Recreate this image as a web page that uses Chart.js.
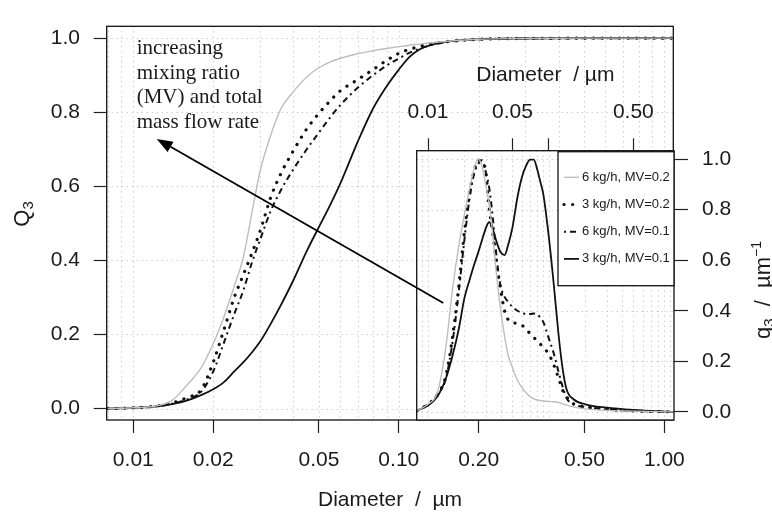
<!DOCTYPE html>
<html><head><meta charset="utf-8">
<script src="https://cdn.jsdelivr.net/npm/chart.js@4.4.1/dist/chart.umd.min.js"></script>
<style>
html,body{margin:0;padding:0;background:#fff;}
#wrap{position:relative;width:772px;height:516px;overflow:hidden;}
canvas{position:absolute;left:0;top:0;}
</style></head><body>
<div id="wrap"><canvas id="main" width="772" height="516"></canvas><canvas id="inset" width="772" height="516"></canvas></div>
<script>
// ---------------- data ----------------
const seriesNames = ['6 kg/h, MV=0.2', '3 kg/h, MV=0.2', '6 kg/h, MV=0.1', '3 kg/h, MV=0.1'];

// cumulative distribution Q3 (main plot)
const cumDiameter = [0.008, 0.01, 0.012, 0.014, 0.016, 0.018, 0.02, 0.022, 0.024, 0.026, 0.028, 0.03, 0.033, 0.036, 0.04, 0.045, 0.05, 0.055, 0.06, 0.07, 0.08, 0.09, 0.1, 0.11, 0.12, 0.13, 0.15, 0.2, 0.3, 0.5, 0.7, 1.08];
const Q3_6kg_MV02 = [0, 0.002, 0.006, 0.022, 0.065, 0.11, 0.175, 0.25, 0.33, 0.41, 0.53, 0.64, 0.74, 0.81, 0.855, 0.895, 0.92, 0.935, 0.945, 0.958, 0.966, 0.972, 0.977, 0.981, 0.984, 0.987, 0.991, 0.997, 0.999, 1, 1, 1];
const Q3_3kg_MV02 = [0, 0.002, 0.006, 0.015, 0.03, 0.05, 0.125, 0.215, 0.30, 0.362, 0.42, 0.478, 0.572, 0.635, 0.695, 0.755, 0.797, 0.83, 0.857, 0.888, 0.915, 0.94, 0.959, 0.97, 0.978, 0.984, 0.99, 0.997, 0.999, 1, 1, 1];
const Q3_6kg_MV01 = [0, 0.002, 0.005, 0.013, 0.025, 0.045, 0.10, 0.18, 0.255, 0.32, 0.395, 0.455, 0.535, 0.59, 0.645, 0.70, 0.745, 0.785, 0.818, 0.866, 0.90, 0.926, 0.945, 0.961, 0.972, 0.98, 0.989, 0.997, 0.999, 1, 1, 1];
const Q3_3kg_MV01 = [0, 0.002, 0.005, 0.012, 0.022, 0.036, 0.052, 0.072, 0.1, 0.125, 0.152, 0.18, 0.23, 0.28, 0.345, 0.425, 0.49, 0.548, 0.605, 0.72, 0.81, 0.87, 0.915, 0.95, 0.97, 0.98, 0.99, 0.997, 0.999, 1, 1, 1];

// density distribution q3 (inset)
const densDiameter = [0.0081, 0.01, 0.012, 0.014, 0.016, 0.018, 0.02, 0.022, 0.024, 0.026, 0.028, 0.03, 0.032, 0.034, 0.036, 0.038, 0.04, 0.043, 0.046, 0.05, 0.055, 0.06, 0.065, 0.07, 0.075, 0.08, 0.085, 0.09, 0.1, 0.11, 0.12, 0.13, 0.14, 0.16, 0.2, 0.3, 0.5, 1.08];
const q3_6kg_MV02 = [0.005, 0.03, 0.08, 0.25, 0.49, 0.66, 0.78, 0.88, 0.96, 1.0, 0.97, 0.9, 0.825, 0.72, 0.59, 0.49, 0.40, 0.30, 0.225, 0.175, 0.125, 0.095, 0.075, 0.06, 0.052, 0.047, 0.045, 0.043, 0.041, 0.04, 0.037, 0.032, 0.027, 0.02, 0.012, 0.006, 0.003, 0];
const q3_3kg_MV02 = [0.005, 0.03, 0.07, 0.14, 0.30, 0.50, 0.71, 0.86, 0.95, 0.995, 0.99, 0.95, 0.81, 0.72, 0.63, 0.545, 0.48, 0.40, 0.365, 0.353, 0.35, 0.342, 0.328, 0.308, 0.295, 0.28, 0.268, 0.255, 0.228, 0.185, 0.135, 0.086, 0.06, 0.032, 0.02, 0.01, 0.004, 0];
const q3_6kg_MV01 = [0.005, 0.03, 0.07, 0.13, 0.28, 0.48, 0.68, 0.84, 0.94, 0.98, 0.995, 0.95, 0.89, 0.79, 0.665, 0.56, 0.495, 0.455, 0.435, 0.415, 0.40, 0.392, 0.387, 0.387, 0.389, 0.385, 0.373, 0.355, 0.29, 0.23, 0.16, 0.10, 0.055, 0.03, 0.02, 0.01, 0.004, 0];
const q3_3kg_MV01 = [0.005, 0.025, 0.062, 0.13, 0.225, 0.33, 0.45, 0.52, 0.58, 0.63, 0.68, 0.725, 0.75, 0.73, 0.69, 0.655, 0.63, 0.62, 0.66, 0.73, 0.85, 0.93, 0.975, 0.998, 0.998, 0.96, 0.91, 0.86, 0.69, 0.5, 0.31, 0.17, 0.09, 0.05, 0.03, 0.017, 0.008, 0];

// ticks / labels
const mainXTicks = [0.01, 0.02, 0.05, 0.1, 0.2, 0.5, 1];
const mainXTickLabels = ['0.01', '0.02', '0.05', '0.10', '0.20', '0.50', '1.00'];
const insetXTicks = [0.01, 0.05, 0.1, 0.5];
const insetXTickLabels = ['0.01', '0.05', '', '0.50'];
const yTicks = [0, 0.2, 0.4, 0.6, 0.8, 1.0];
const yTickLabels = ['0.0', '0.2', '0.4', '0.6', '0.8', '1.0'];
const logGrid = [0.008, 0.009, 0.01, 0.02, 0.03, 0.04, 0.05, 0.06, 0.07, 0.08, 0.09, 0.1, 0.2, 0.3, 0.4, 0.5, 0.6, 0.7, 0.8, 0.9, 1.0];

// texts
const mainXTitle = 'Diameter  /  \u00b5m';
const insetXTitle = 'Diameter  / \u00b5m';
const annotationLines = ['increasing', 'mixing ratio', '(MV) and total', 'mass flow rate'];
const annotationAnchor = {x: 0.0103, y: 0.956};
const arrowFrom = {x: 0.1471, y: 0.285};
const arrowTo = {x: 0.01225, y: 0.728};

// ---------------- styles ----------------
const FONT = '"Liberation Sans", Arial, sans-serif';
const SERIF = '"Liberation Serif", "Times New Roman", serif';
const TXT = '#1a1a1a';
const lineStyles = [
  {borderColor: '#bdbdbd', borderWidth: 1.4, borderDash: [], borderCapStyle: 'butt'},
  {borderColor: '#111', borderWidth: 3.2, borderDash: [0.1, 8.5], borderCapStyle: 'round'},
  {borderColor: '#111', borderWidth: 2, borderDash: [2, 4, 6, 4], borderCapStyle: 'butt'},
  {borderColor: '#111', borderWidth: 1.8, borderDash: [], borderCapStyle: 'butt'}
];

function makeSets(xs, ys) {
  return ys.map((arr, k) => Object.assign({
    label: seriesNames[k],
    data: xs.map((d, i) => ({x: d, y: arr[i]})),
    showLine: true, fill: false, pointRadius: 0, cubicInterpolationMode: 'monotone'
  }, lineStyles[k]));
}

function gridPlugin(id) {
  return {
    id: id,
    beforeDraw(chart) {
      if (id === 'insetGrid') {
        const a = chart.chartArea, c = chart.ctx;
        c.save(); c.fillStyle = '#fff'; c.fillRect(a.left, a.top, a.right - a.left, a.bottom - a.top); c.restore();
      }
    },
    beforeDatasetsDraw(chart) {
      const a = chart.chartArea, c = chart.ctx, sx = chart.scales.x, sy = chart.scales.y;
      c.save();
      c.strokeStyle = '#b8b8b8'; c.lineWidth = 1; c.setLineDash([1, 4]);
      logGrid.forEach(v => {
        const p = Math.round(sx.getPixelForValue(v)) + 0.5;
        if (p > a.left + 1 && p < a.right - 1) { c.beginPath(); c.moveTo(p, a.top); c.lineTo(p, a.bottom); c.stroke(); }
      });
      yTicks.forEach(v => {
        const p = Math.round(sy.getPixelForValue(v)) + 0.5;
        c.beginPath(); c.moveTo(a.left, p); c.lineTo(a.right, p); c.stroke();
      });
      c.restore();
    },
    afterDatasetsDraw(chart) {
      const a = chart.chartArea, c = chart.ctx;
      c.save(); c.strokeStyle = '#111'; c.lineWidth = 1.3; c.setLineDash([]);
      c.strokeRect(a.left, a.top, a.right - a.left, a.bottom - a.top);
      c.restore();
    }
  };
}

function drawRich(c, parts, x, y, rot) {
  c.save(); c.translate(x, y); c.rotate(rot);
  let w = 0;
  parts.forEach(p => { c.font = p.size + 'px ' + FONT; p.w = c.measureText(p.t).width; w += p.w; });
  let cx = -w / 2;
  c.fillStyle = TXT; c.textAlign = 'left'; c.textBaseline = 'alphabetic';
  parts.forEach(p => { c.font = p.size + 'px ' + FONT; c.fillText(p.t, cx, p.dy || 0); cx += p.w; });
  c.restore();
}

function tickFont() { return {family: FONT, size: 21}; }

// ---------------- main chart ----------------
const mainChart = new Chart(document.getElementById('main'), {
  type: 'scatter',
  data: {datasets: makeSets(cumDiameter, [Q3_6kg_MV02, Q3_3kg_MV02, Q3_6kg_MV01, Q3_3kg_MV01])},
  options: {
    responsive: false, animation: false, devicePixelRatio: 1,
    layout: {padding: {top: 16, right: 98.7, left: 0, bottom: 0}},
    plugins: {legend: {display: false}, tooltip: {enabled: false}},
    scales: {
      x: {
        type: 'logarithmic', position: 'bottom', min: 0.00794, max: 1.081,
        afterBuildTicks: s => { s.ticks = mainXTicks.map(v => ({value: v})); },
        afterFit: s => { s.height = 96; },
        ticks: {callback: (v, i) => mainXTickLabels[i], autoSkip: false, maxRotation: 0, minRotation: 0, padding: 15, color: TXT, font: tickFont()},
        grid: {drawOnChartArea: false, drawTicks: true, tickLength: 13, tickColor: '#222', tickWidth: 1.2},
        border: {display: false},
        title: {display: true, text: mainXTitle, color: TXT, font: tickFont(), padding: {top: 0, bottom: 3.5}}
      },
      y: {
        type: 'linear', min: -0.031, max: 1.032,
        afterBuildTicks: s => { s.ticks = yTicks.map(v => ({value: v})); },
        afterFit: s => { s.width = 106.7; },
        ticks: {callback: (v, i) => yTickLabels[i], padding: 13.7, color: TXT, font: tickFont()},
        grid: {drawOnChartArea: false, drawTicks: true, tickLength: 13, tickColor: '#222', tickWidth: 1.2},
        border: {display: false}
      }
    }
  },
  plugins: [gridPlugin('mainGrid'), {
    id: 'mainText',
    afterDraw(chart) {
      const c = chart.ctx, sx = chart.scales.x, sy = chart.scales.y;
      c.save();
      c.fillStyle = TXT; c.font = '21px ' + SERIF; c.textAlign = 'left'; c.textBaseline = 'alphabetic';
      const ax = sx.getPixelForValue(annotationAnchor.x), ay = sy.getPixelForValue(annotationAnchor.y);
      annotationLines.forEach((t, i) => c.fillText(t, ax, ay + i * 24.4));
      c.restore();
      drawRich(c, [{t: 'Q', size: 22}, {t: '3', size: 15, dy: 4}], 29, 214, -Math.PI / 2);
    }
  }]
});

// ---------------- inset chart ----------------
new Chart(document.getElementById('inset'), {
  type: 'scatter',
  data: {datasets: makeSets(densDiameter, [q3_6kg_MV02, q3_3kg_MV02, q3_6kg_MV01, q3_3kg_MV01])},
  options: {
    responsive: false, animation: false, devicePixelRatio: 1,
    layout: {padding: {top: 0, right: 0, left: 416.7, bottom: 96}},
    plugins: {legend: {display: false}, tooltip: {enabled: false}},
    scales: {
      x: {
        type: 'logarithmic', position: 'top', min: 0.00806, max: 1.085,
        afterBuildTicks: s => { s.ticks = insetXTicks.map(v => ({value: v})); },
        afterFit: s => { s.height = 150.7; },
        ticks: {callback: (v, i) => insetXTickLabels[i], autoSkip: false, maxRotation: 0, minRotation: 0, padding: 13.4, color: TXT, font: tickFont()},
        grid: {drawOnChartArea: false, drawTicks: true, tickLength: 12.4, tickColor: '#222', tickWidth: 1.2},
        border: {display: false},
        title: {display: true, text: insetXTitle, color: TXT, font: tickFont(), padding: {top: 62.4, bottom: 0}}
      },
      y: {
        type: 'linear', position: 'right', min: -0.032, max: 1.033,
        afterBuildTicks: s => { s.ticks = yTicks.map(v => ({value: v})); },
        afterFit: s => { s.width = 98; },
        ticks: {callback: (v, i) => yTickLabels[i], padding: 14, color: TXT, font: tickFont()},
        grid: {drawOnChartArea: false, drawTicks: true, tickLength: 14, tickColor: '#222', tickWidth: 1.2},
        border: {display: false}
      }
    }
  },
  plugins: [gridPlugin('insetGrid'), {
    id: 'insetExtras',
    afterDraw(chart) {
      const c = chart.ctx, a = chart.chartArea;
      // legend
      const lw = 116, lh = 134, lx = a.right - lw, ly = a.top + 1;
      c.save();
      c.fillStyle = '#fff'; c.fillRect(lx, ly, lw, lh);
      c.strokeStyle = '#111'; c.lineWidth = 1.3; c.strokeRect(lx, ly, lw, lh);
      c.font = '13px ' + FONT; c.textBaseline = 'middle'; c.textAlign = 'left';
      seriesNames.forEach((n, k) => {
        const yy = ly + 25.6 + k * 27.2, st = lineStyles[k];
        c.strokeStyle = st.borderColor; c.lineWidth = st.borderWidth; c.setLineDash(st.borderDash); c.lineCap = st.borderCapStyle;
        c.beginPath(); c.moveTo(lx + 6, yy); c.lineTo(lx + 21, yy); c.stroke();
        c.fillStyle = TXT; c.fillText(n, lx + 24, yy);
      });
      c.restore();
      // arrow, placed with the main chart's scales
      const mx = mainChart.scales.x, my = mainChart.scales.y;
      const x1 = mx.getPixelForValue(arrowFrom.x), y1 = my.getPixelForValue(arrowFrom.y);
      const x2 = mx.getPixelForValue(arrowTo.x), y2 = my.getPixelForValue(arrowTo.y);
      const ang = Math.atan2(y2 - y1, x2 - x1), L = 16, W = 6;
      const bx = x2 - L * Math.cos(ang), by = y2 - L * Math.sin(ang);
      c.save();
      c.strokeStyle = '#000'; c.lineWidth = 1.8; c.setLineDash([]);
      c.beginPath(); c.moveTo(x1, y1); c.lineTo(bx, by); c.stroke();
      c.fillStyle = '#000'; c.beginPath();
      c.moveTo(x2, y2);
      c.lineTo(bx + W * Math.sin(ang), by - W * Math.cos(ang));
      c.lineTo(bx - W * Math.sin(ang), by + W * Math.cos(ang));
      c.closePath(); c.fill();
      c.restore();
      // right axis title
      drawRich(c, [{t: 'q', size: 22}, {t: '3', size: 15, dy: 4}, {t: '  /  \u00b5m', size: 22}, {t: '\u22121', size: 14, dy: -9}], 770, 290, -Math.PI / 2);
    }
  }]
});
</script>
</body></html>
